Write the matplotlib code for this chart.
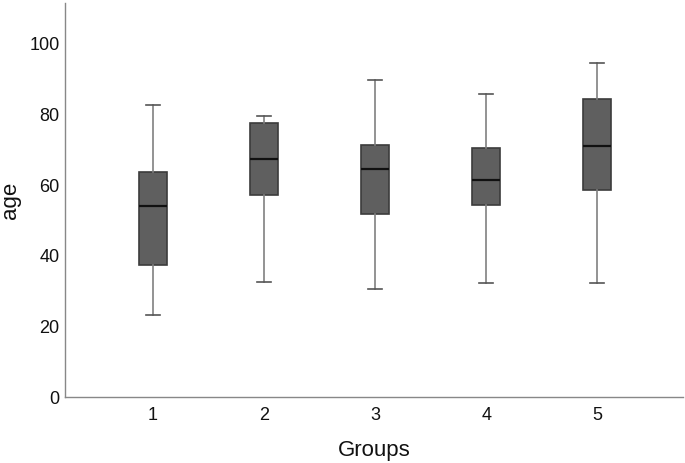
import matplotlib
matplotlib.use("Agg")
import matplotlib.pyplot as plt

groups = ["1", "2", "3", "4", "5"]
whislo = [23.2, 32.5, 30.5, 32.4, 32.4]
q1 = [37.3, 57.3, 51.7, 54.4, 58.5]
med = [54.0, 67.5, 64.7, 61.5, 71.1]
q3 = [63.6, 77.7, 71.5, 70.5, 84.5]
whishi = [82.8, 79.7, 89.8, 85.7, 94.7]
yticks = [0, 20, 40, 60, 80, 100]

plt.rcParams['font.family'] = ['Liberation Sans', 'DejaVu Sans']
fig = plt.figure(figsize=(6.85, 4.63), dpi=100)
ax = fig.add_axes([0.095, 0.1425, 0.902, 0.851])

stats = [dict(label=g, whislo=a, q1=b, med=c, q3=d, whishi=e, fliers=[])
         for g, a, b, c, d, e in zip(groups, whislo, q1, med, q3, whishi)]
positions = list(range(1, len(groups) + 1))
ax.bxp(stats, positions=positions, widths=0.25, patch_artist=True, showfliers=False,
       boxprops=dict(facecolor='#5f5f5f', edgecolor='#3c3c3c', linewidth=1.2),
       medianprops=dict(color='#111111', linewidth=1.6),
       whiskerprops=dict(color='#808080', linewidth=1.2),
       capprops=dict(color='#555555', linewidth=1.2),
       capwidths=0.125)

ax.set_xlim(0.21, 5.77)
ax.set_ylim(0, 111.6)
ax.set_yticks(yticks)
ax.set_xticks(positions)
ax.set_xticklabels(groups)
ax.tick_params(axis='x', length=0, labelsize=13, colors='#111111', pad=7)
ax.tick_params(axis='y', length=0, labelsize=13, colors='#111111', pad=4)
for s in ['top', 'right']:
    ax.spines[s].set_visible(False)
for s in ['left', 'bottom']:
    ax.spines[s].set_color('#888888')
    ax.spines[s].set_linewidth(1.0)
ax.set_ylabel('age', fontsize=16, color='#111111', labelpad=6)
ax.set_xlabel('Groups', fontsize=16, color='#111111', labelpad=12)

fig.savefig('out.png', dpi=100)
